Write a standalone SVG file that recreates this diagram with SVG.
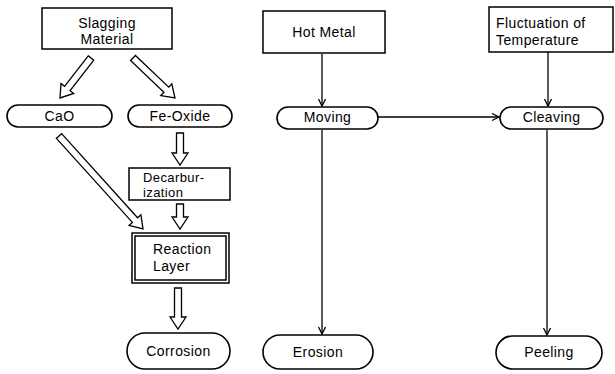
<svg xmlns="http://www.w3.org/2000/svg" width="615" height="374" viewBox="0 0 615 374">
<style>
.box{fill:#fff;stroke:#000;stroke-width:1.5}
.pill{fill:#fff;stroke:#000;stroke-width:1.6}
.t{font-family:"Liberation Sans",Arial,sans-serif;font-size:14px;fill:#000;letter-spacing:0.4px}
.s{font-size:13px}
.c{text-anchor:middle}
.ha{fill:#fff;stroke:#000;stroke-width:1.3;stroke-linejoin:miter}
.ln{stroke:#000;stroke-width:1.3;fill:none}
</style>
<defs>
<marker id="ah" markerWidth="10" markerHeight="10" refX="8" refY="4" orient="auto" markerUnits="userSpaceOnUse">
<path d="M1,0.5 L8,4 L1,7.5" fill="none" stroke="#000" stroke-width="1.3"/>
</marker>
</defs>
<g id="connectors">
<path class="ha" transform="translate(91,58) rotate(37.8)" d="M-3.5,0 L3.5,0 L3.5,38.6 L8,38.6 L0,50.6 L-8,38.6 L-3.5,38.6 Z"/>
<path class="ha" transform="translate(133,58) rotate(-46.4)" d="M-3.5,0 L3.5,0 L3.5,46 L8,46 L0,58 L-8,46 L-3.5,46 Z"/>
<path class="ha" transform="translate(180,133)" d="M-3.5,0 L3.5,0 L3.5,20 L8,20 L0,32 L-8,20 L-3.5,20 Z"/>
<path class="ha" transform="translate(180,204)" d="M-3.5,0 L3.5,0 L3.5,13 L8,13 L0,25 L-8,13 L-3.5,13 Z"/>
<path class="ha" transform="translate(59,136) rotate(-42.1)" d="M-3.5,0 L3.5,0 L3.5,113.3 L8,113.3 L0,125.3 L-8,113.3 L-3.5,113.3 Z"/>
<path class="ha" transform="translate(178,288)" d="M-3.5,0 L3.5,0 L3.5,29 L8,29 L0,41 L-8,29 L-3.5,29 Z"/>
<line class="ln" x1="322" y1="54" x2="322" y2="106" marker-end="url(#ah)"/>
<line class="ln" x1="548" y1="52" x2="548" y2="106" marker-end="url(#ah)"/>
<line class="ln" x1="378" y1="117" x2="499" y2="117" marker-end="url(#ah)"/>
<line class="ln" x1="322" y1="130" x2="322" y2="334" marker-end="url(#ah)"/>
<line class="ln" x1="547" y1="130" x2="547" y2="335" marker-end="url(#ah)"/>
</g>
<g id="slagging">
<rect class="box" x="42" y="8" width="130" height="41"/>
<text class="t c" x="107" y="28">Slagging</text>
<text class="t c" x="107" y="44">Material</text>
</g>
<g id="cao">
<rect class="pill" x="7" y="105" width="105" height="22" rx="11"/>
<text class="t c" x="59.5" y="121">CaO</text>
</g>
<g id="feoxide">
<rect class="pill" x="128" y="105" width="104" height="22" rx="11"/>
<text class="t c" x="180" y="121">Fe-Oxide</text>
</g>
<g id="decarburization">
<rect class="box" x="129" y="168" width="101" height="32"/>
<text class="t s" x="143" y="182">Decarbur-</text>
<text class="t s" x="143" y="197">ization</text>
</g>
<g id="reaction">
<rect class="box" x="132" y="233" width="97" height="50"/>
<rect class="box" x="135" y="236" width="91" height="44" stroke-width="1"/>
<text class="t" x="153" y="254">Reaction</text>
<text class="t" x="153" y="271">Layer</text>
</g>
<g id="corrosion">
<rect class="pill" x="127" y="333" width="103" height="36" rx="18"/>
<text class="t c" x="178.5" y="356">Corrosion</text>
</g>
<g id="hotmetal">
<rect class="box" x="263" y="11" width="122" height="42"/>
<text class="t c" x="324" y="37">Hot  Metal</text>
</g>
<g id="moving">
<rect class="pill" x="277" y="107" width="101" height="22" rx="11"/>
<text class="t c" x="327.5" y="122">Moving</text>
</g>
<g id="erosion">
<rect class="pill" x="263" y="335" width="110" height="34" rx="17"/>
<text class="t c" x="318" y="357">Erosion</text>
</g>
<g id="fluctuation">
<rect class="box" x="489" y="7" width="124" height="45"/>
<text class="t" x="496" y="28">Fluctuation  of</text>
<text class="t" x="496" y="45">Temperature</text>
</g>
<g id="cleaving">
<rect class="pill" x="500" y="107" width="103" height="22" rx="11"/>
<text class="t c" x="551.5" y="122">Cleaving</text>
</g>
<g id="peeling">
<rect class="pill" x="496" y="336" width="106" height="33" rx="16.5"/>
<text class="t c" x="549" y="357">Peeling</text>
</g>
</svg>
